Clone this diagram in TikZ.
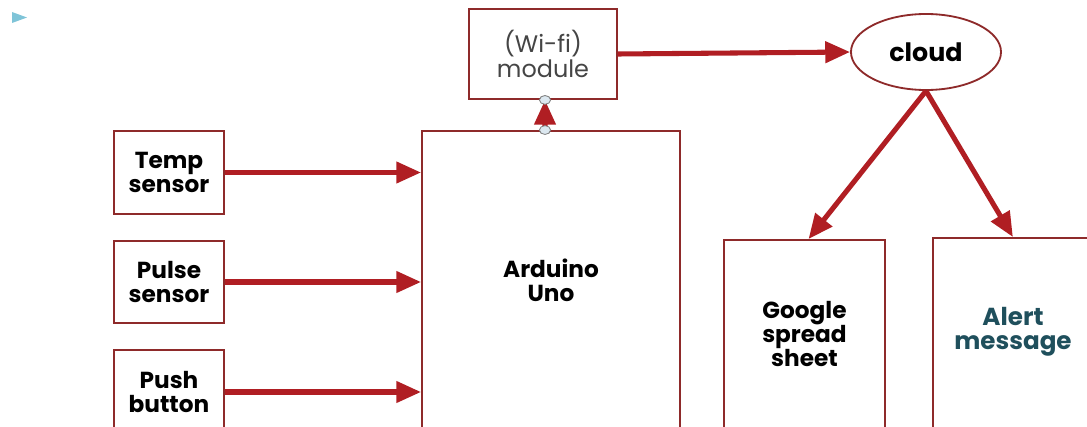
\documentclass[tikz,border=0pt]{standalone}
\usepackage{fontspec}
\setmainfont{Poppins}
\usetikzlibrary{positioning, calc, arrows.meta, shapes.geometric}
\definecolor{Edge}{HTML}{8E2A2A}
\definecolor{Flow}{HTML}{B01E23}
\definecolor{Muted}{HTML}{454545}
\definecolor{Teal}{HTML}{1F4F5C}
\definecolor{Bullet}{HTML}{7FC4D8}
\definecolor{Port}{HTML}{DCE8F0}
\tikzset{
    block/.style={rectangle, draw=Edge, line width=1.3pt, fill=white, align=center, font=\bfseries\fontsize{16.5}{16.8}\selectfont},
    label/.style={align=center, font=\bfseries\fontsize{16.5}{16.8}\selectfont},
    flow/.style={-{Triangle[length=0.62cm, width=0.52cm]}, line width=3.6pt, color=Flow},
    port/.style={ellipse, draw=gray, fill=Port, line width=0.6pt, minimum width=0.28cm, minimum height=0.22cm, inner sep=0pt},
}

\begin{document}
\begin{tikzpicture}[x=0.025cm, y=-0.025cm]
        % --- Frame ---
        \useasboundingbox (0,0) rectangle (1087,427);
        \clip (0,0) rectangle (1087,427);
        \fill[Bullet] (12,12) -- (27,17.5) -- (12,23) -- cycle;

        % --- Inputs ---
        \node[block, minimum width=2.75cm, minimum height=2.075cm] (temp)  at (169,172.5) {Temp\\sensor};
        \node[block, minimum width=2.75cm, minimum height=2.05cm]  (pulse) at (169,282)   {Pulse\\sensor};
        \node[block, minimum width=2.75cm, minimum height=2.1cm]   (push)  at (169,392)   {Push\\button};

        % --- Controller and link ---
        \node[block, minimum width=6.45cm, minimum height=7.8cm] (ard) at (551,287) {};
        \node[label] (ardtxt) at (551,280) {Arduino\\Uno};
        \node[block, font=\fontsize{17}{17.5}\selectfont, text=Muted, minimum width=3.7cm, minimum height=2.25cm] (wifi) at (543,54) {(Wi-fi)\\module};
        \node[ellipse, draw=Edge, line width=1.3pt, fill=white, minimum width=3.75cm, minimum height=1.9cm, font=\bfseries\fontsize{18}{18}\selectfont] (cloud) at (926,52) {cloud};

        % --- Outputs ---
        \node[block, minimum width=4.025cm, minimum height=5cm] (sheet) at (804.5,340) {};
        \node[label] (sheettxt) at (804.5,334) {Google\\spread\\sheet};
        \node[block, minimum width=4.175cm, minimum height=5.05cm] (alert) at (1016.5,339) {};
        \node[label, text=Teal, font=\fontseries{sb}\fontsize{17.5}{16.8}\selectfont] (alerttxt) at (1013,332) {Alert\\message};

        % --- Connectors ---
        \draw[flow] (temp.east)  -- (temp.east -| ard.west);
        \draw[flow] (pulse.east) -- (pulse.east -| ard.west);
        \draw[flow] (push.east)  -- (push.east -| ard.west);
        \coordinate (ardport) at ([xshift=-0.15cm]ard.north);
        \coordinate (wifiport) at ([xshift=0.05cm]wifi.south);
        \draw[flow] (ardport) -- (wifiport);
        \node[port] at (ardport) {};
        \node[port] at (wifiport) {};
        \draw[flow] (wifi.east) -- (cloud.west);
        \draw[flow] (cloud.south) -- ([xshift=0.1cm]sheet.north);
        \draw[flow] (cloud.south) -- ([xshift=-0.09cm]alert.north);
    \end{tikzpicture}
\end{document}
